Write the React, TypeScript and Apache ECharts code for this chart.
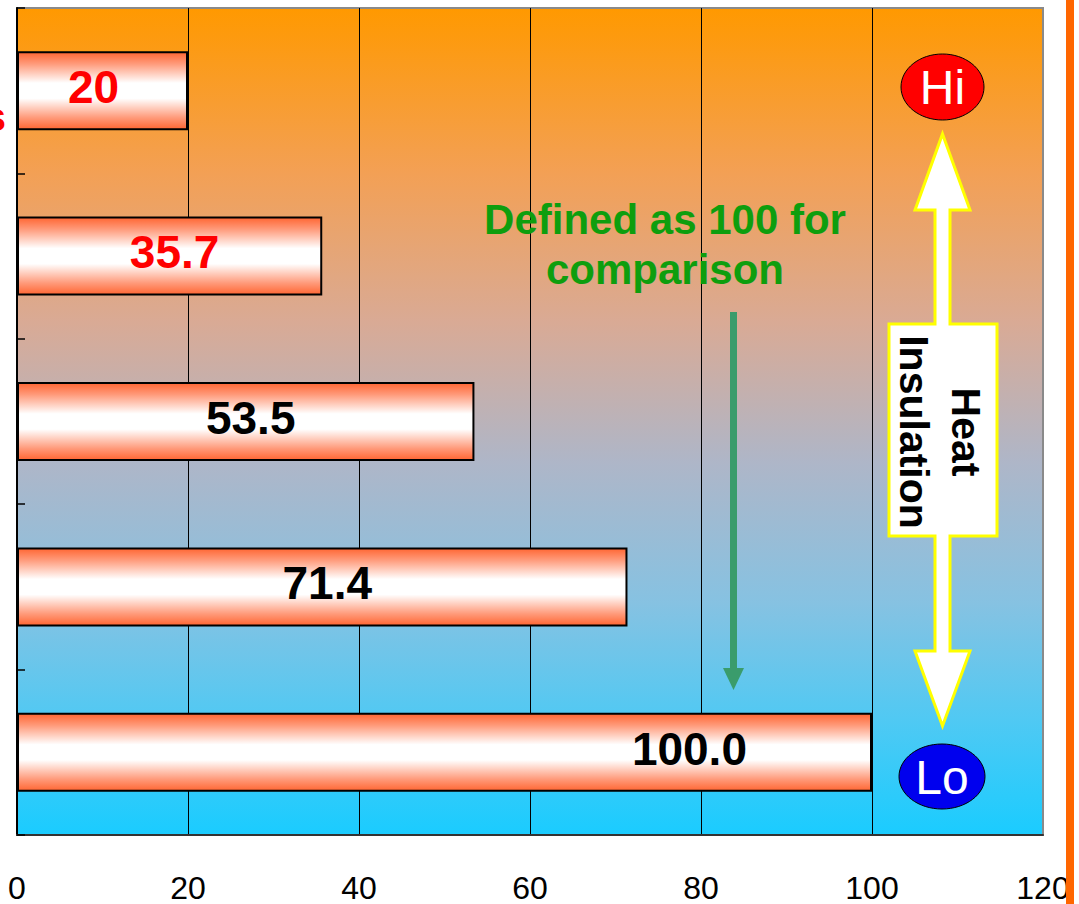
import React, { useEffect, useRef } from "react";
import * as echarts from "echarts";

const categories = ["Item 1", "Item 2", "Item 3", "Item 4", "Item 5"];
const values = [20, 35.7, 53.5, 71.4, 100.0];
const valueLabels = ["20", "35.7", "53.5", "71.4", "100.0"];
const labelColors = ["#FF0000", "#FF0000", "#000000", "#000000", "#000000"];
const xTicks = [0, 20, 40, 60, 80, 100, 120];

const FONT = '"Liberation Sans", Arial, Helvetica, sans-serif';

export default function App() {
  const ref = useRef<HTMLDivElement>(null);
  useEffect(() => {
    if (!ref.current) return;
    const chart = echarts.init(ref.current, null, { renderer: "svg" });
    const barGradient = {
      type: "linear", x: 0, y: 0, x2: 0, y2: 1,
      colorStops: [
        { offset: 0, color: "#FF6633" },
        { offset: 0.15, color: "#FF9A7A" },
        { offset: 0.4, color: "#FFFFFF" },
        { offset: 0.6, color: "#FFFFFF" },
        { offset: 0.85, color: "#FF9A7A" },
        { offset: 1, color: "#FF6633" },
      ],
    };
    const data = values.map((v, i) => ({
      value: v,
      label:
        i === values.length - 1
          ? { position: "insideRight", distance: 125, offset: [0, -3], color: labelColors[i] }
          : { position: "inside", offset: [i === 0 ? -9 : 5, -4], color: labelColors[i] },
    }));
    chart.setOption({
      animation: false,
      backgroundColor: "#FFFFFF",
      grid: {
        left: 17, right: 36, top: 8, bottom: 69,
        containLabel: false,
        outerBoundsMode: "none",
        show: true,
        borderColor: "#8A8A8A",
        borderWidth: 2,
        backgroundColor: {
          type: "linear", x: 0, y: 0, x2: 0, y2: 1,
          colorStops: [
            { offset: 0, color: "#FF9900" },
            { offset: 0.2, color: "#F3A055" },
            { offset: 0.38, color: "#D9AA95" },
            { offset: 0.55, color: "#AEB6C8" },
            { offset: 0.72, color: "#86C2E2" },
            { offset: 0.86, color: "#50C9F3" },
            { offset: 1, color: "#1ACCFF" },
          ],
        },
      },
      xAxis: {
        type: "value",
        min: xTicks[0],
        max: xTicks[xTicks.length - 1],
        interval: 20,
        axisLine: { show: true, lineStyle: { color: "#333333", width: 2 } },
        axisTick: { show: false },
        axisLabel: {
          margin: 40,
          fontSize: 32,
          lineHeight: 26,
          color: "#000000",
          fontFamily: FONT,
        },
        splitLine: {
          show: true,
          showMinLine: false,
          showMaxLine: false,
          lineStyle: { color: "#000000", width: 1 },
        },
      },
      yAxis: {
        type: "category",
        data: categories,
        inverse: true,
        axisLine: { show: true, lineStyle: { color: "#000000", width: 2 } },
        axisTick: { show: true, inside: true, length: 8, lineStyle: { color: "#000000", width: 1.5 } },
        axisLabel: { show: false },
        splitLine: { show: false },
      },
      series: [
        {
          type: "bar",
          data,
          barWidth: 79,
          itemStyle: { color: barGradient, borderColor: "#000000", borderWidth: 2 },
          label: {
            show: true,
            fontSize: 46,
            fontWeight: "bold",
            fontFamily: FONT,
            formatter: (p: any) => valueLabels[p.dataIndex],
          },
        },
      ],
      graphic: [
        { type: "rect", shape: { x: 1066, y: 0, width: 8, height: 904 }, style: { fill: "#FF6600" }, z: 10 },
        {
          type: "text", x: 6, y: 117, z: 10,
          style: { text: "s", fill: "#FF0000", font: `bold 40px ${FONT}`, align: "right", verticalAlign: "middle" },
        },
        {
          type: "text", x: 665, y: 244, z: 10,
          style: {
            text: "Defined as 100 for\ncomparison",
            fill: "#0E9E0E",
            font: `bold 42px ${FONT}`,
            lineHeight: 50,
            align: "center",
            verticalAlign: "middle",
          },
        },
        {
          type: "line", z: 10,
          shape: { x1: 733.5, y1: 312, x2: 733.5, y2: 672 },
          style: { stroke: "#3A9C6C", lineWidth: 7 },
        },
        {
          type: "polygon", z: 10,
          shape: { points: [[723, 668], [744, 668], [733.5, 690]] },
          style: { fill: "#3A9C6C" },
        },
        {
          type: "polygon", z: 10,
          shape: {
            points: [
              [942.5, 134], [970, 210], [950, 210], [950, 324], [997, 324], [997, 536],
              [950, 536], [950, 651], [970, 651], [942.5, 726], [915, 651], [935, 651],
              [935, 536], [889, 536], [889, 324], [935, 324], [935, 210], [915, 210],
            ],
          },
          style: { fill: "#FFFFFF", stroke: "#FFFF00", lineWidth: 3 },
        },
        {
          type: "text", x: 940, y: 432, rotation: -Math.PI / 2, z: 11,
          style: {
            text: "Heat\nInsulation",
            fill: "#000000",
            font: `bold 41px ${FONT}`,
            lineHeight: 52,
            align: "center",
            verticalAlign: "middle",
          },
        },
        {
          type: "ellipse", z: 10,
          shape: { cx: 942.5, cy: 87, rx: 41.5, ry: 33 },
          style: { fill: "#FF0000", stroke: "#000000", lineWidth: 1 },
        },
        {
          type: "text", x: 942.5, y: 87, z: 11,
          style: { text: "Hi", fill: "#FFFFFF", font: `48px ${FONT}`, align: "center", verticalAlign: "middle" },
        },
        {
          type: "ellipse", z: 10,
          shape: { cx: 942, cy: 776.5, rx: 43, ry: 32.5 },
          style: { fill: "#0000EE", stroke: "#000000", lineWidth: 1 },
        },
        {
          type: "text", x: 942, y: 777, z: 11,
          style: { text: "Lo", fill: "#FFFFFF", font: `48px ${FONT}`, align: "center", verticalAlign: "middle" },
        },
      ],
    });
    return () => chart.dispose();
  }, []);
  return (
    <div
      ref={ref}
      style={{ position: "fixed", left: 0, top: 0, width: 1079, height: 904 }}
    />
  );
}
